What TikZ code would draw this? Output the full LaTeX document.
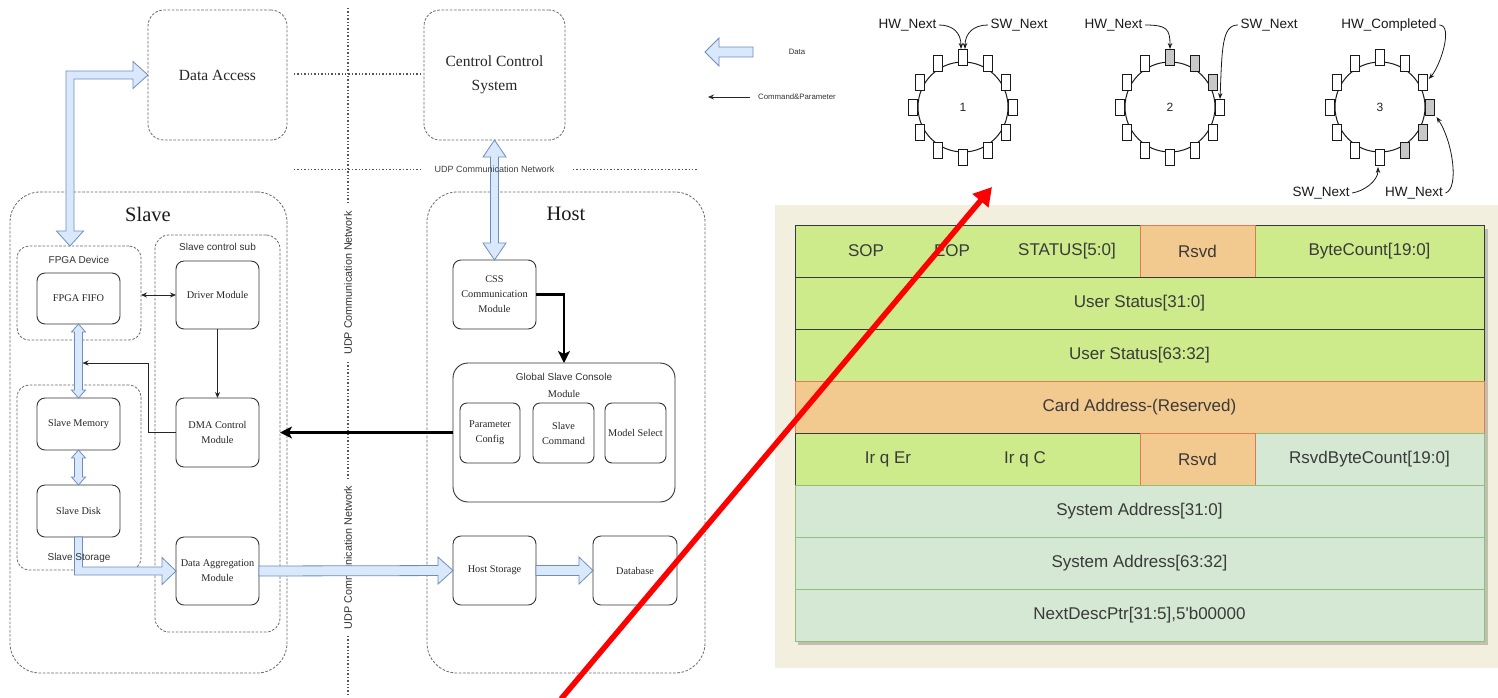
\documentclass[tikz,border=0pt]{standalone}
\usepackage{fontspec}
\setmainfont{Liberation Serif}
\newfontfamily\sansfam{Liberation Sans}
\usetikzlibrary{calc,arrows.meta}

\definecolor{blueFill}{HTML}{DAE8FC}
\definecolor{blueLine}{HTML}{6C8EBF}
\definecolor{grayLine}{HTML}{6A6A6A}
\definecolor{dotLine}{HTML}{555555}
\definecolor{modLine}{HTML}{333333}
\definecolor{panelFill}{HTML}{F2EFDF}
\definecolor{limeFill}{HTML}{CDEB8B}
\definecolor{limeLine}{HTML}{36393D}
\definecolor{peachFill}{HTML}{F2C98E}
\definecolor{peachLine}{HTML}{E07A55}
\definecolor{mintFill}{HTML}{D5E8D4}
\definecolor{mintLine}{HTML}{8FBF78}
\definecolor{cellText}{HTML}{3A3A3A}
\definecolor{slotGray}{HTML}{C8C8C8}

% hollow blue double-headed arrow from #1 to #2
% #3 half shaft width, #4 half head width, #5 head length
\newcommand{\fatdouble}[5]{%
  \filldraw[fatarrow]
    (#1)
    -- ($($(#1)!#5!(#2)$)!#4!90:(#2)$)
    -- ($($(#1)!#5!(#2)$)!#3!90:(#2)$)
    -- ($($(#2)!#5!(#1)$)!#3!-90:(#1)$)
    -- ($($(#2)!#5!(#1)$)!#4!-90:(#1)$)
    -- (#2)
    -- ($($(#2)!#5!(#1)$)!#4!90:(#1)$)
    -- ($($(#2)!#5!(#1)$)!#3!90:(#1)$)
    -- ($($(#1)!#5!(#2)$)!#3!-90:(#2)$)
    -- ($($(#1)!#5!(#2)$)!#4!-90:(#2)$)
    -- cycle;}
% hollow blue single-headed arrow from #1 to #2
\newcommand{\fatsingle}[5]{%
  \filldraw[fatarrow]
    ($(#1)!#3!90:(#2)$)
    -- ($($(#2)!#5!(#1)$)!#3!-90:(#1)$)
    -- ($($(#2)!#5!(#1)$)!#4!-90:(#1)$)
    -- (#2)
    -- ($($(#2)!#5!(#1)$)!#4!90:(#1)$)
    -- ($($(#2)!#5!(#1)$)!#3!90:(#1)$)
    -- ($(#1)!#3!-90:(#2)$)
    -- cycle;}

\begin{document}
\begin{tikzpicture}[x=1pt,y=-1pt,
  container/.style={draw=grayLine, dash pattern=on 2.6pt off 1.6pt, line width=0.8pt,
    rounded corners=#1, inner sep=0pt, outer sep=0pt},
  mod/.style={draw=modLine, line width=0.9pt, rounded corners=8pt, fill=white,
    inner sep=1pt, outer sep=0pt, align=center, text=black!85,
    font=\fontsize{10.3}{15}\selectfont},
  bigserif/.style={font=\fontsize{15.5}{23.5}\selectfont, align=center, text=black!85},
  titleserif/.style={font=\fontsize{20.5}{22}\selectfont, text=black!90},
  sanslabel/.style={font=\sansfam\fontsize{10}{12}\selectfont, text=black!80, inner sep=1pt},
  serifsmall/.style={font=\fontsize{10.3}{12}\selectfont, text=black!85, inner sep=1pt},
  netdots/.style={draw=dotLine, line width=1.3pt, dash pattern=on 1.3pt off 2.1pt},
  netlabel/.style={font=\sansfam\fontsize{10.8}{12}\selectfont, text=black!80, inner sep=1pt},
  netlabelh/.style={font=\sansfam\fontsize{9}{11}\selectfont, text=black!75, inner sep=1pt},
  legendfont/.style={font=\sansfam\fontsize{7.8}{9}\selectfont, text=black!80, inner sep=1pt},
  fatarrow/.style={fill=blueFill, draw=blueLine, line width=0.8pt, line join=miter},
  cmd/.style={draw=black!85, line width=0.8pt, -{Stealth[length=6pt,width=5pt]}},
  bigcmd/.style={draw=black, line width=2.3pt, -{Stealth[length=12pt,width=12pt,inset=3pt]}},
  cellbase/.style={line width=1pt, minimum height=52pt, inner sep=0pt, outer sep=0pt,
    text=cellText, font=\sansfam\fontsize{17}{20}\selectfont},
  lime/.style={cellbase, fill=limeFill, draw=limeLine},
  peach/.style={cellbase, fill=peachFill, draw=peachLine},
  mint/.style={cellbase, fill=mintFill, draw=mintLine},
  celltext/.style={text=cellText, font=\sansfam\fontsize{17}{20}\selectfont, inner sep=0pt},
  slot/.style={draw=black!90, line width=1pt, fill=white, minimum width=9pt,
    minimum height=16pt, inner sep=0pt, outer sep=0pt},
  ringline/.style={draw=black!90, line width=1pt},
  ringlbl/.style={font=\sansfam\fontsize{13.5}{15}\selectfont, text=black!90, inner sep=2.5pt},
  ringnum/.style={font=\sansfam\fontsize{12}{14}\selectfont, text=black!85},
  ringarrow/.style={draw=black!90, line width=0.8pt, -{Stealth[length=6pt,width=4.5pt]}},
]
\useasboundingbox (0,0) rectangle (1498,697);
\fill[white] (0,0) rectangle (1498,697);

% ---------------- network separators ----------------
\draw[netdots] (348,8) -- (348,205);
\draw[netdots] (348,362) -- (348,480);
\draw[netdots] (348,636) -- (348,697);
\draw[netdots] (294,74) -- (420,74);
\draw[netdots] (294,169.5) -- (420,169.5);
\draw[netdots] (573,169.5) -- (698,169.5);
\node[netlabel, rotate=90] (udpA) at (348,283) {UDP Communication Network};
\node[netlabel, rotate=90] (udpB) at (348,557.5) {UDP Communication Network};

% ---------------- top-level systems ----------------
\node[container=16pt, minimum width=139pt, minimum height=130pt, bigserif] (da) at (217.5,75) {Data Access};
\node[container=16pt, minimum width=141pt, minimum height=130pt, bigserif] (ccs) at (494.5,75) {Centrol Control\\System};

% ---------------- slave side ----------------
\node[container=30pt, minimum width=277pt, minimum height=481pt] (slave) at (148.5,432.5) {};
\node[titleserif] (slaveT) at (148,214) {Slave};
\node[container=12pt, minimum width=124pt, minimum height=94pt] (fpga) at (79,293) {};
\node[sanslabel] (fpgaT) at (79,260) {FPGA Device};
\node[container=14pt, minimum width=125pt, minimum height=397pt] (sub) at (217.5,433.5) {};
\node[sanslabel] (subT) at (217.5,247) {Slave control sub};
\node[container=12pt, minimum width=124pt, minimum height=185pt] (store) at (79,477.5) {};

\node[mod, minimum width=83pt, minimum height=51pt] (fifo) at (78.5,298.5) {FPGA FIFO};
\node[mod, minimum width=83pt, minimum height=68pt] (drv) at (217.5,295) {Driver Module};
\node[mod, minimum width=83pt, minimum height=69pt] (dma) at (217.5,432.5) {DMA Control\\Module};
\node[mod, minimum width=83pt, minimum height=52pt] (mem) at (78.5,424) {Slave Memory};
\node[mod, minimum width=83pt, minimum height=52pt] (disk) at (78.5,511) {Slave Disk};
\node[mod, minimum width=83pt, minimum height=68pt] (agg) at (217.5,571) {Data Aggregation\\Module};

% ---------------- host side ----------------
\node[container=30pt, minimum width=278pt, minimum height=481pt] (host) at (566,432.5) {};
\node[titleserif] (hostT) at (566,214) {Host};
\node[mod, minimum width=83pt, minimum height=69pt] (css) at (494.5,294.5) {CSS\\Communication\\Module};
\node[mod, rounded corners=15pt, minimum width=222pt, minimum height=139pt] (gsc) at (564,432.5) {};
\node[sanslabel] (gscT) at (564,377) {Global Slave Console};
\node[serifsmall] (gscM) at (564,394) {Module};
\node[mod, rounded corners=7pt, minimum width=60pt, minimum height=60pt] (param) at (490,433) {Parameter\\Config};
\node[mod, rounded corners=7pt, minimum width=61pt, minimum height=60pt] (scmd) at (563.5,433) {Slave\\Command};
\node[mod, rounded corners=7pt, minimum width=61pt, minimum height=60pt] (msel) at (635.5,433) {Model Select};
\node[mod, minimum width=83pt, minimum height=69pt] (hs) at (494.5,570.5) {Host Storage};
\node[mod, minimum width=84pt, minimum height=69pt] (db) at (635,570.5) {Database};

% ---------------- data paths (hollow blue) ----------------
\coordinate (dab) at ($(fpga.north west)+(53,0)$);
\filldraw[fatarrow] (dab) -- ++(-13.5,-15) -- ++(9.5,0)
  -- ($(dab |- da.west)+(-4,-4)$) -- ($(da.west)+(-15,-4)$) -- ++(0,-9.5)
  -- (da.west) -- ++(-15,13.5) -- ++(0,-9.5)
  -- ($(dab |- da.west)+(4,4)$) -- ($(dab)+(4,-15)$) -- ++(9.5,0) -- cycle;
\fatdouble{fifo.south}{mem.north}{4pt}{7pt}{8pt}
\fatdouble{mem.south}{disk.north}{4pt}{7pt}{8pt}
\filldraw[fatarrow] ($(disk.south)+(-4,0)$) -- ($(disk.south |- agg.west)+(-4,4)$)
  -- ($(agg.west)+(-14,4)$) -- ++(0,9.5) -- (agg.west) -- ++(-14,-13.5) -- ++(0,9.5)
  -- ($(disk.south |- agg.west)+(4,-4)$) -- ($(disk.south)+(4,0)$) -- cycle;
\fatsingle{agg.east}{hs.west}{5pt}{13.5pt}{15pt}
\fatsingle{hs.east}{db.west}{5pt}{13.5pt}{14pt}
\fatdouble{ccs.south}{css.north}{4pt}{11.5pt}{17pt}

\node[sanslabel] (storeT) at (79,558) {Slave Storage};
\node[netlabelh] (udpC) at (494.5,169.5) {UDP Communication Network};

% ---------------- command paths ----------------
\draw[draw=black!85, line width=0.8pt, {Stealth[length=6pt,width=5pt]}-{Stealth[length=6pt,width=5pt]}]
  (fpga.east |- drv.west) -- (drv.west);
\draw[cmd] (drv.south) -- (dma.north);
\coordinate (fifoTap) at (82.5,363);
\draw[cmd] (dma.west) -- ++(-28,0) |- (fifoTap);
\draw[bigcmd] (gsc.west) -- (sub.east |- gsc.west);
\draw[bigcmd] (css.east) -| (gsc.north);

% ---------------- legend ----------------
\coordinate (lgDataTail) at (753,52);
\coordinate (lgDataHead) at (705,52);
\fatsingle{lgDataTail}{lgDataHead}{5pt}{14pt}{14pt}
\node[legendfont] (lgData) at (797,52) {Data};
\coordinate (lgCmdTail) at (750,97);
\coordinate (lgCmdHead) at (708,97);
\draw[cmd] (lgCmdTail) -- (lgCmdHead);
\node[legendfont] (lgCmd) at (797,97) {Command\&Parameter};

% ---------------- descriptor rings ----------------
\coordinate (c1) at (963,107);
\coordinate (c2) at (1170,107);
\coordinate (c3) at (1380,107);
\foreach \r in {1,2,3} {
  \draw[ringline] (c\r) circle[radius=45];
  \foreach \i in {0,...,11}
    \node[slot] (r\r s\i) at ($(c\r)+(\i*30:50)$) {};
}
\foreach \i in {9,10,11}
  \filldraw[draw=black!90, line width=1pt, fill=slotGray] (r2s\i.north west) rectangle (r2s\i.south east);
\foreach \i in {0,1,2}
  \filldraw[draw=black!90, line width=1pt, fill=slotGray] (r3s\i.north west) rectangle (r3s\i.south east);
\node[ringnum] (n1) at (c1) {1};
\node[ringnum] (n2) at (c2) {2};
\node[ringnum] (n3) at (c3) {3};

\node[ringlbl] (l1a) at (907.5,25) {HW\_Next};
\node[ringlbl] (l1b) at (1019,25) {SW\_Next};
\node[ringlbl] (l2a) at (1113.5,25) {HW\_Next};
\node[ringlbl] (l2b) at (1269,25) {SW\_Next};
\node[ringlbl] (l3a) at (1389,25) {HW\_Completed};
\node[ringlbl] (l3b) at (1321,193) {SW\_Next};
\node[ringlbl] (l3c) at (1414,193) {HW\_Next};

\draw[ringarrow] (l1a.east) .. controls +(14,0) and +(0,-16) .. ($(r1s9.north)+(-2,0)$);
\draw[ringarrow] (l1b.west) .. controls +(-14,0) and +(0,-16) .. ($(r1s9.north)+(2,0)$);
\draw[ringarrow] (l2a.east) .. controls +(22,0) and +(0,-20) .. (r2s9.north);
\draw[ringarrow] (l2b.west) .. controls +(-16,0) and +(2,-50) .. (r2s0.north);
\draw[ringarrow] (l3a.east) .. controls +(14,0) and +(12,-14) .. ($(r3s11.east)+(1,-3)$);
\draw[ringarrow] (l3c.east) .. controls +(14,-5) and +(16,24) .. ($(r3s0.south east)+(2,2)$);
\draw[ringarrow] (l3b.east) .. controls +(12,-2) and +(0,14) .. ($(r3s3.south)+(-2,2)$);

% ---------------- descriptor layout ----------------
\fill[panelFill] (775,205) rectangle (1498,668);
\fill[black, opacity=0.2] (798,229) rectangle (1488,645);

\node[lime, minimum width=345pt] (t1a) at (967.5,251) {};
\node[celltext] (sop) at (866,251) {SOP};
\node[celltext] (eop) at (952,251) {EOP};
\node[celltext] (stat) at (1067,251) {STATUS[5:0]};
\node[lime, minimum width=229pt] (t1c) at (1369.5,251) {ByteCount[19:0]};
\node[peach, minimum width=115pt] (t1b) at (1197.5,251) {Rsvd};
\node[lime, minimum width=689pt] (t2) at (1139.5,303) {User Status[31:0]};
\node[lime, minimum width=689pt] (t3) at (1139.5,355) {User Status[63:32]};
\node[peach, minimum width=689pt] (t4) at (1139.5,407) {Card Address-(Reserved)};
\node[lime, minimum width=345pt] (t5a) at (967.5,459) {};
\node[celltext] (irqer) at (888,459) {Ir q Er};
\node[celltext] (irqc) at (1025,459) {Ir q C};
\node[mint, minimum width=229pt] (t5c) at (1369.5,459) {RsvdByteCount[19:0]};
\node[peach, minimum width=115pt] (t5b) at (1197.5,459) {Rsvd};
\node[mint, minimum width=689pt] (t6) at (1139.5,511) {System Address[31:0]};
\node[mint, minimum width=689pt] (t7) at (1139.5,563) {System Address[63:32]};
\node[mint, minimum width=689pt] (t8) at (1139.5,615) {NextDescPtr[31:5],5'b00000};

% ---------------- pointer from ring to descriptor ----------------
\coordinate (redTail) at (561,699);
\coordinate (redTip) at (992,187);
\draw[draw=red, line width=5.5pt, -{Triangle[length=18pt,width=20pt]}] (redTail) -- (redTip);
\end{tikzpicture}
\end{document}
